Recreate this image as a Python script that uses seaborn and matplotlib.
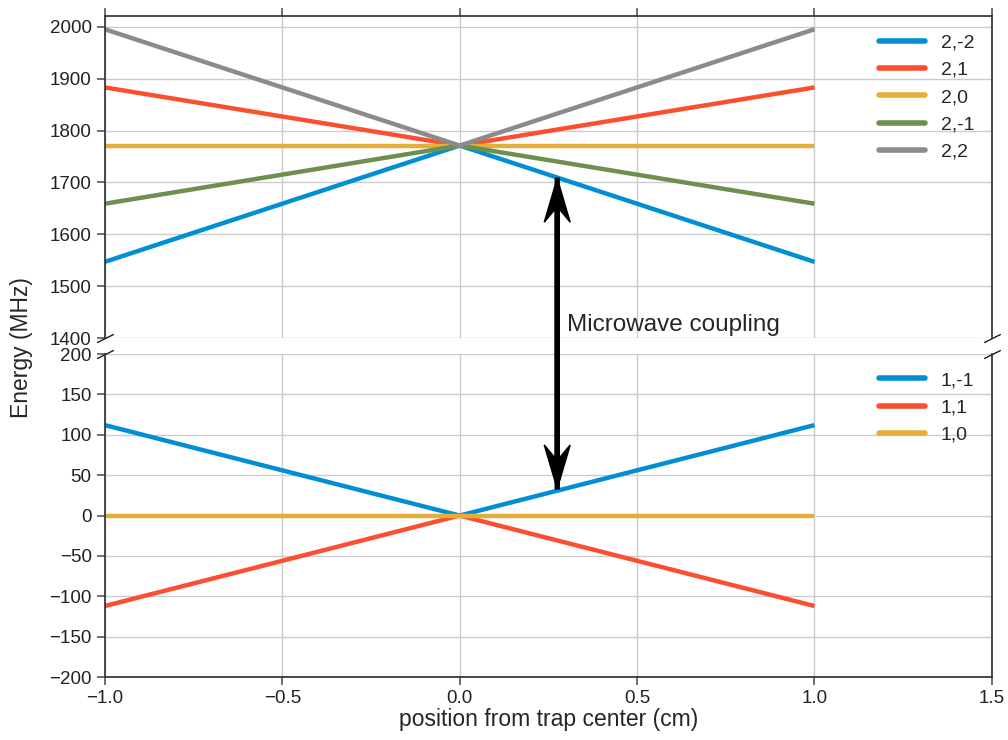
import matplotlib
matplotlib.use("Agg")
import numpy as np
import pandas as pd
import seaborn as sns
import matplotlib.pyplot as plt
from matplotlib.patches import FancyArrow
from matplotlib.transforms import IdentityTransform

# ---------------- data ----------------
positions = [-1.0, 0.0, 1.0]

upper_states = ["2,-2", "2,1", "2,0", "2,-1", "2,2"]
upper_2m2 = [1547, 1771, 1547]
upper_2p1 = [1883, 1771, 1883]
upper_2p0 = [1771, 1771, 1771]
upper_2m1 = [1659, 1771, 1659]
upper_2p2 = [1995, 1771, 1995]

lower_states = ["1,-1", "1,1", "1,0"]
lower_1m1 = [112, 0, 112]
lower_1p1 = [-112, 0, -112]
lower_1p0 = [0, 0, 0]

upper_yticks = [1400, 1500, 1600, 1700, 1800, 1900, 2000]
lower_yticks = [-200, -150, -100, -50, 0, 50, 100, 150, 200]
xticks = [-1.0, -0.5, 0.0, 0.5, 1.0, 1.5]

arrow_x = 0.275
arrow_top_y = 1708
arrow_bottom_y = 33

colors_upper = ["#008fd5", "#fc4f30", "#e5ae38", "#6d904f", "#8b8b8b"]
colors_lower = ["#008fd5", "#fc4f30", "#e5ae38"]

# ---------------- frames ----------------
rows = []
for s, vals in zip(upper_states, [upper_2m2, upper_2p1, upper_2p0, upper_2m1, upper_2p2]):
    for x, v in zip(positions, vals):
        rows.append({"position": x, "energy": v, "state": s})
df_up = pd.DataFrame(rows)
rows = []
for s, vals in zip(lower_states, [lower_1m1, lower_1p1, lower_1p0]):
    for x, v in zip(positions, vals):
        rows.append({"position": x, "energy": v, "state": s})
df_lo = pd.DataFrame(rows)

# ---------------- style ----------------
sns.set_theme(style="ticks", rc={"axes.grid": True, "grid.color": "#cccccc",
                                 "axes.edgecolor": "#333333", "xtick.color": "#555555",
                                 "ytick.color": "#555555"})
plt.rcParams["font.family"] = ["Liberation Sans", "DejaVu Sans"]
plt.rcParams["xtick.labelcolor"] = "#222222"
plt.rcParams["ytick.labelcolor"] = "#222222"

fig = plt.figure(figsize=(10.08, 7.4), dpi=100)
ax1 = fig.add_axes([0.104, 0.543, 0.880, 0.435])
ax2 = fig.add_axes([0.104, 0.085, 0.880, 0.4366])

sns.lineplot(data=df_up, x="position", y="energy", hue="state", hue_order=upper_states,
             palette=colors_upper, lw=3.2, ax=ax1, solid_capstyle="butt")
sns.lineplot(data=df_lo, x="position", y="energy", hue="state", hue_order=lower_states,
             palette=colors_lower, lw=3.2, ax=ax2, solid_capstyle="butt")

for ax in (ax1, ax2):
    ax.set_xlim(-1.0, 1.5)
    ax.set_xticks(xticks)
    ax.set_xlabel("")
    ax.set_ylabel("")
    ax.tick_params(labelsize=13.5, length=6, width=1.2)
    leg = ax.legend(loc="upper right", frameon=False, fontsize=14, handlelength=2.4)
    for h in leg.get_lines():
        h.set_linewidth(4)
        h.set_solid_capstyle("round")

ax1.set_ylim(1400, 2020)
ax1.set_yticks(upper_yticks)
ax2.set_ylim(-200, 200)
ax2.set_yticks(lower_yticks)
ax2.set_xticklabels([f"{t:.1f}".replace("-", "\u2212") for t in xticks])

ax1.spines["bottom"].set_visible(False)
ax2.spines["top"].set_visible(False)
ax1.xaxis.tick_top()
ax1.tick_params(labeltop=False)
ax2.xaxis.tick_bottom()

# break marks
d = 0.5
kw = dict(marker=[(-1, -d), (1, d)], markersize=12, linestyle="none", color="k",
          mec="k", mew=1, clip_on=False)
ax1.plot([0, 1], [0, 0], transform=ax1.transAxes, **kw)
ax2.plot([0, 1], [1, 1], transform=ax2.transAxes, **kw)

fig.text(0.021, 0.53, "Energy (MHz)", rotation=90, va="center", ha="center", fontsize=16.5)
fig.text(0.544, 0.028, "position from trap center (cm)", ha="center", va="center", fontsize=16.5)

ax1.text(0.302, 1425, "Microwave coupling", fontsize=17.5, va="center", ha="left")

# double-headed arrow spanning both axes
p_top = ax1.transData.transform((arrow_x, arrow_top_y))
p_bot = ax2.transData.transform((arrow_x, arrow_bottom_y))
L = p_top[1] - p_bot[1]
akw = dict(width=4, head_width=26, head_length=44, overhang=0.3,
           length_includes_head=True, transform=IdentityTransform(),
           color="black", zorder=10)
fig.add_artist(FancyArrow(p_bot[0], p_bot[1], 0, L, **akw))
fig.add_artist(FancyArrow(p_top[0], p_top[1], 0, -L, **akw))

fig.savefig("out.png", dpi=100)
